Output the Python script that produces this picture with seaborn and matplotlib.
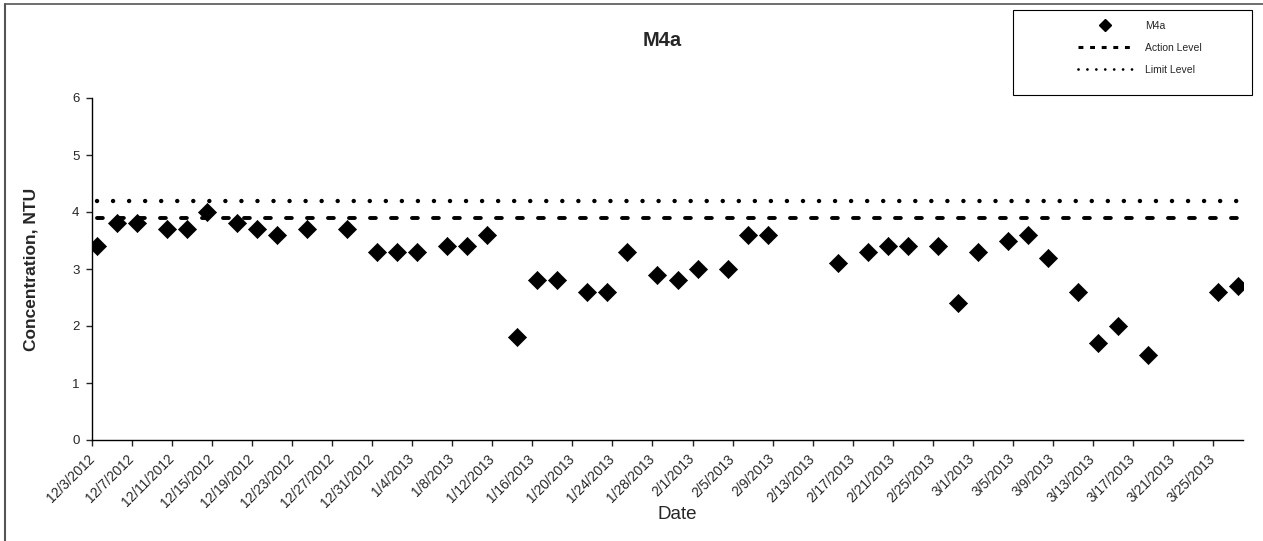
import numpy as np
import pandas as pd
import matplotlib
matplotlib.use("Agg")
import matplotlib.pyplot as plt
from matplotlib.lines import Line2D
from matplotlib.patches import Rectangle
import seaborn as sns

# sample dates and turbidity readings (NTU)
dates = ["2012-12-03", "2012-12-05", "2012-12-07", "2012-12-10", "2012-12-12",
         "2012-12-14", "2012-12-17", "2012-12-19", "2012-12-21", "2012-12-24",
         "2012-12-28", "2012-12-31", "2013-01-02", "2013-01-04", "2013-01-07",
         "2013-01-09", "2013-01-11", "2013-01-14", "2013-01-16", "2013-01-18",
         "2013-01-21", "2013-01-23", "2013-01-25", "2013-01-28", "2013-01-30",
         "2013-02-01", "2013-02-04", "2013-02-06", "2013-02-08", "2013-02-15",
         "2013-02-18", "2013-02-20", "2013-02-22", "2013-02-25", "2013-02-27",
         "2013-03-01", "2013-03-04", "2013-03-06", "2013-03-08", "2013-03-11",
         "2013-03-13", "2013-03-15", "2013-03-18", "2013-03-25", "2013-03-27"]
m4a = [3.4, 3.8, 3.8, 3.7, 3.7, 4.0, 3.8, 3.7, 3.6, 3.7,
       3.7, 3.3, 3.3, 3.3, 3.4, 3.4, 3.6, 1.8, 2.8, 2.8,
       2.6, 2.6, 3.3, 2.9, 2.8, 3.0, 3.0, 3.6, 3.6, 3.1,
       3.3, 3.4, 3.4, 3.4, 2.4, 3.3, 3.5, 3.6, 3.2, 2.6,
       1.7, 2.0, 1.5, 2.6, 2.7]
action_level = 3.9
limit_level = 4.2
axis_start = "2012-12-03"
axis_end = "2013-03-28"
tick_every = "4D"

# excel date axis puts points in the middle of the day
df = pd.DataFrame({"Date": pd.to_datetime(dates) + pd.Timedelta(hours=12), "M4a": m4a})
df["Action Level"] = action_level
df["Limit Level"] = limit_level

sns.set_style("white")
plt.rcParams["font.family"] = ["Liberation Sans", "DejaVu Sans"]

fig = plt.figure(figsize=(12.63, 5.41), dpi=100)
ax = fig.add_axes([92 / 1263, 1 - 440 / 541, (1243 - 92) / 1263, (440 - 98) / 541])

sns.lineplot(data=df, x="Date", y="Limit Level", ax=ax, color="black", lw=3.2,
             linestyle=(0, (0.01, 3.6)), dash_capstyle="round", zorder=2)
sns.lineplot(data=df, x="Date", y="Action Level", ax=ax, color="black", lw=2.8,
             linestyle=(0, (1.5, 3.9)), dash_capstyle="round", zorder=2)
sns.scatterplot(data=df, x="Date", y="M4a", ax=ax, marker="D", s=85, color="black",
                edgecolor="black", linewidth=0.5, zorder=3)

ax.set_xlim(pd.Timestamp(axis_start), pd.Timestamp(axis_end))
ax.set_ylim(0, 6)
ax.set_yticks(range(0, 7))
ticks = pd.date_range(axis_start, axis_end, freq=tick_every)
ax.set_xticks(ticks)
ax.set_xticklabels([f"{t.month}/{t.day}/{t.year}" for t in ticks], rotation=45,
                   ha="right", va="center", rotation_mode="anchor", fontsize=9.9)
ax.tick_params(axis="y", labelsize=9.5, length=4, width=1, pad=5, direction="out", left=True)
ax.tick_params(axis="x", length=4, width=1, pad=8, direction="out", bottom=True)

for s in ["top", "right"]:
    ax.spines[s].set_visible(False)
for s in ["left", "bottom"]:
    ax.spines[s].set_color("black")
    ax.spines[s].set_linewidth(1)

ax.set_xlabel("Date", fontsize=13.5)
ax.xaxis.set_label_coords((677 - 92) / (1243 - 92), -(506 - 440) / (440 - 98))
ax.set_ylabel("Concentration, NTU", fontsize=12.5, fontweight="bold")
ax.yaxis.set_label_coords(-(92 - 39) / (1243 - 92), 0.5)
fig.text(662 / 1263, 1 - 40 / 541, "M4a", fontsize=14.5, fontweight="bold",
         ha="center", va="center")

# legend with its own box
handles = [Line2D([], [], marker="D", color="black", linestyle="none", markersize=6.5),
           Line2D([], [], color="black", lw=2.2, linestyle=(0, (1.6, 2.2))),
           Line2D([], [], color="black", lw=2.0, linestyle=(0, (0.01, 3.2)),
                  dash_capstyle="round")]
leg = fig.legend(handles, ["M4a", "Action Level", "Limit Level"], loc="center",
                 bbox_to_anchor=(1140 / 1263, 1 - 48 / 541), frameon=False,
                 fontsize=7.5, handlelength=5.3, handletextpad=1.2, labelspacing=1.15)
fig.add_artist(Rectangle((1013 / 1263, 1 - 95 / 541), 239 / 1263, 85 / 541,
                         transform=fig.transFigure, fill=False, edgecolor="black", lw=0.8))

# page border (left and top)
fig.add_artist(Line2D([5 / 1263, 5 / 1263], [0, 1 - 4 / 541], transform=fig.transFigure,
                      color="#555555", lw=1.5))
fig.add_artist(Line2D([5 / 1263, 1], [1 - 4 / 541, 1 - 4 / 541], transform=fig.transFigure,
                      color="#555555", lw=1.2))

fig.savefig("out.png", dpi=100)
